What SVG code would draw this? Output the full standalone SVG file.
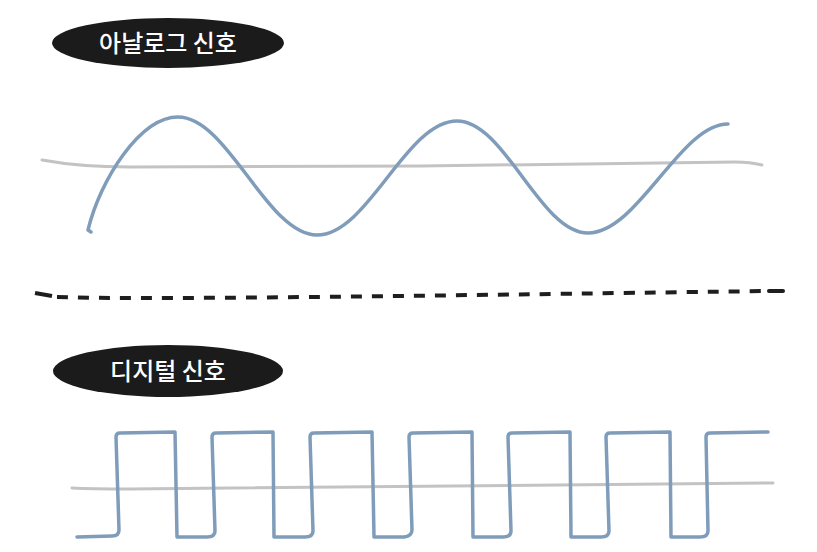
<svg xmlns="http://www.w3.org/2000/svg" width="817" height="552" viewBox="0 0 817 552">
  <style>
    .pill { fill: #1b1b1b; }
    .label { fill: #ffffff; font-family: "Noto Sans CJK KR", "Noto Sans", sans-serif; font-size: 24px; font-weight: 500; text-anchor: middle; }
    .base { fill: none; stroke: #c3c3c3; stroke-width: 3; stroke-linecap: round; stroke-linejoin: round; }
    .wave { fill: none; stroke: #7f9dba; stroke-width: 3.5; stroke-linecap: round; stroke-linejoin: round; }
    .divider { fill: none; stroke: #1e1e1e; stroke-width: 4; }
  </style>
  <rect width="817" height="552" fill="#ffffff"/>

  <g id="analog-label">
    <ellipse class="pill" cx="168" cy="43" rx="116" ry="25"/>
    <text class="label" x="168" y="52">아날로그 신호</text>
  </g>

  <g id="analog-signal">
    <path class="base" d="M42,160 Q80,167 130,167 L420,166 L735,162 Q750,162 762,165"/>
    <path class="wave" d="M91,232 L88,230 C100,180 140,117 178,117 C228,117 267,235 317,235 C368,235 406,121 457,121 C505,121 540,233 588,233 C638,233 680,124 728,124"/>
  </g>

  <g id="divider">
    <path class="divider" d="M35,293 L52,296"/>
    <path class="divider" d="M57,297 C150,300 400,296 768,291" stroke-dasharray="11 10"/>
    <path class="divider" d="M769,291 L783,291" stroke-linecap="round"/>
  </g>

  <g id="digital-label">
    <ellipse class="pill" cx="168" cy="371" rx="115" ry="26"/>
    <text class="label" x="168" y="380">디지털 신호</text>
  </g>

  <g id="digital-signal">
    <path class="base" d="M72,488 Q90,489 130,489 L773,483"/>
    <path class="wave" d="M77,537 L112,536 Q119,536 119,530 L116,437 Q116,433 120,433 L175,432 L177,537 L207,537 Q215,537 215,531 L212,437 Q212,433 216,433 L273,432 L274,537 L305,537 Q313,537 313,531 L310,437 Q310,433 314,433 L372,432 L374,537 L404,537 Q412,536 412,530 L409,437 Q409,433 413,433 L472,432 L473,537 L503,537 Q511,537 511,531 L508,437 Q508,433 512,433 L570,432 L571,537 L601,537 Q609,537 609,531 L606,437 Q606,433 610,433 L670,432 L671,537 L700,537 Q708,537 708,531 L706,437 Q706,433 710,433 L768,432"/>
  </g>
</svg>
